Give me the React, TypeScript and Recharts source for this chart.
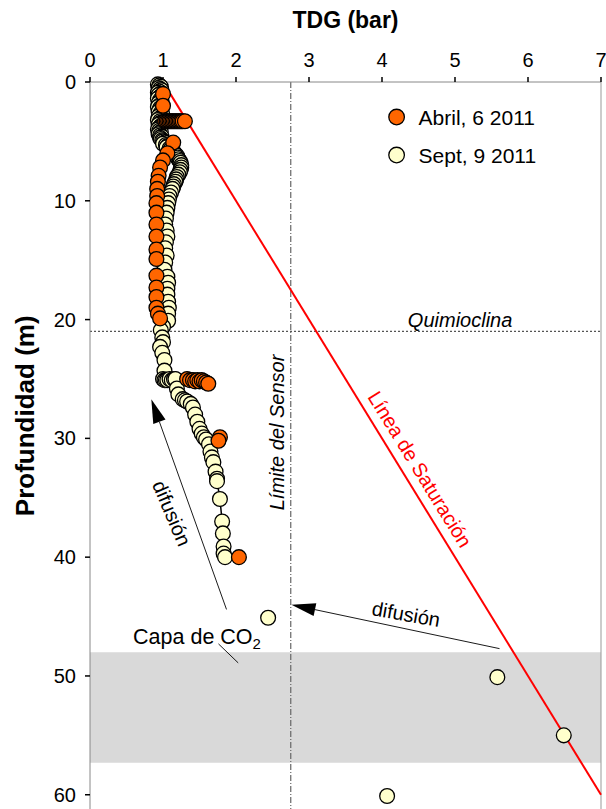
import React from 'react';
import {
  ScatterChart,
  Scatter,
  XAxis,
  YAxis,
  ReferenceArea,
  ReferenceLine,
  ReferenceDot,
} from 'recharts';

const FONT = '"Liberation Sans", Arial, Helvetica, sans-serif';
const ORANGE = '#FF6600';
const CREAM = '#FFFFCC';

const xTicks = [0, 1, 2, 3, 4, 5, 6, 7];
const yTicks = [0, 10, 20, 30, 40, 50, 60];

// Abril, 6 2011 profile
const abrilDepth = [
  1.0, 2.0,
  3.3, 3.3, 3.3, 3.3, 3.3, 3.3, 3.3, 3.3, 3.3, 3.3, 3.3, 3.3, 3.3, 3.3,
  5.1, 6.0, 6.6, 7.2, 7.9, 8.4, 9.0, 9.6,
  10.2, 11.0, 12.0, 13.0, 14.1, 14.9, 16.3, 17.3, 18.1, 19.0, 19.5, 19.9,
  25.0, 25.1, 25.1, 25.2, 25.1, 25.2, 25.1, 25.2, 25.3, 25.4,
  29.9, 30.2, 40.0,
];
const abrilTdg = [
  1.0, 1.0,
  1.03, 1.05, 1.07, 1.09, 1.11, 1.13, 1.15, 1.17, 1.19, 1.21, 1.23, 1.25, 1.27, 1.3,
  1.14, 1.06, 1.0, 0.96, 0.94, 0.93, 0.92, 0.92,
  0.91, 0.91, 0.91, 0.91, 0.91, 0.91, 0.91, 0.91, 0.91, 0.91, 0.93, 0.96,
  1.33, 1.37, 1.41, 1.44, 1.47, 1.5, 1.53, 1.56, 1.59, 1.62,
  1.78, 1.76, 2.04,
];

// Sept, 9 2011 profile (measured within sensor range)
const septDepth = [
  0.2, 0.3, 0.4, 0.5, 0.6, 0.7, 0.8, 0.9, 1.0, 1.1, 1.2, 1.3, 1.4, 1.5, 1.6, 1.7, 1.8, 1.9,
  2.0, 2.1, 2.2, 2.3, 2.4, 2.5, 2.6, 2.7, 2.8, 2.9, 3.0, 3.1, 3.2, 3.3, 3.4, 3.5, 3.6, 3.7,
  3.8, 3.9, 4.0, 4.1, 4.2, 4.3, 4.4, 4.5, 4.6, 4.7, 4.8, 4.9, 5.0,
  5.1, 5.2, 5.3, 5.4, 5.5, 5.6, 5.7, 5.8, 5.9, 6.0, 6.1, 6.2, 6.35, 6.5, 6.65, 6.8,
  7.0, 7.2, 7.4, 7.6, 7.8, 8.0, 8.2, 8.4, 8.6, 8.8, 9.0, 9.3, 9.6, 9.9,
  10.2, 10.6, 11.0, 11.5, 12.0, 12.5, 13.0, 13.5, 14.0, 14.6, 15.2, 15.8, 16.4, 16.9,
  17.4, 17.9, 18.5, 19.0, 19.5, 20.1, 20.6, 20.9, 21.5, 21.9, 22.3, 22.8, 23.4, 24.3,
  25.0, 25.1, 25.1, 25.1, 25.0, 25.1, 25.0, 25.0,
  25.8, 26.3, 26.7, 26.8, 26.9, 27.1, 27.4, 28.0, 28.6, 29.2, 29.6, 29.9, 30.1, 30.5,
  31.1, 31.6, 32.0, 32.8, 33.4, 33.6, 35.1, 37.0, 38.0, 39.1, 39.7, 40.0,
];
const septTdg = [
  0.93, 0.95, 0.97, 0.94, 0.96, 0.98, 0.95, 0.93, 0.96, 0.94, 0.97, 0.95, 0.93, 0.96, 0.98, 0.95, 0.94, 0.97,
  0.95, 0.93, 0.96, 0.98, 0.95, 0.94, 0.97, 0.99, 0.96, 0.94, 0.97, 0.95, 0.93, 0.96, 0.98, 0.95, 0.94, 0.97,
  0.96, 0.94, 0.93, 0.95, 0.97, 0.95, 0.94, 0.96, 0.98, 0.96, 0.97, 0.99, 1.0,
  1.02, 1.0, 1.04, 1.06, 1.05, 1.09, 1.1, 1.12, 1.15, 1.14, 1.17, 1.19, 1.2, 1.21, 1.23, 1.24,
  1.25, 1.25, 1.24, 1.23, 1.21, 1.19, 1.18, 1.17, 1.15, 1.14, 1.13, 1.11, 1.09, 1.08,
  1.07, 1.06, 1.05, 1.04, 1.03, 1.05, 1.06, 1.04, 1.03, 1.05, 1.03, 1.02, 1.06, 1.07,
  1.06, 1.06, 1.07, 1.08, 1.07, 1.07, 1.0, 0.97, 0.99, 1.0, 0.96, 0.99, 1.02, 1.02,
  1.0, 1.02, 1.04, 1.06, 1.09, 1.12, 1.15, 1.17,
  1.19, 1.21, 1.27, 1.3, 1.33, 1.38, 1.41, 1.44, 1.47, 1.5, 1.53, 1.56, 1.59, 1.63,
  1.65, 1.67, 1.69, 1.72, 1.74, 1.74, 1.78, 1.81, 1.82, 1.83, 1.83, 1.85,
];

// Sept, 9 2011 deep samples
const deepDepth = [45.1, 50.1, 55.0, 60.1];
const deepTdg = [2.44, 5.58, 6.49, 4.07];

const sensorLimit = 2.75;
const quimioclina = 21;
const capaTop = 48;
const capaBottom = 57.3;
const saturation = [
  { x: 1.1, y: 1 },
  { x: 7, y: 60 },
];

const abril = abrilDepth.map((d, i) => ({ tdg: abrilTdg[i], depth: d }));
const sept = septDepth.map((d, i) => ({ tdg: septTdg[i], depth: d }));
const septDeep = deepDepth.map((d, i) => ({ tdg: deepTdg[i], depth: d }));

const marker = (fill: string, r = 7.4) => (p: any) =>
  <circle cx={p.cx} cy={p.cy} r={r} fill={fill} stroke="#000" strokeWidth={1.3} />;

const note = (text: React.ReactNode, opts: any = {}) => (p: any) => {
  const { angle = 0, anchor = 'middle', fill = '#000', size = 20, italic = false, bold = false, baseline = 'central' } = opts;
  return (
    <text
      x={p.cx}
      y={p.cy}
      transform={angle ? `rotate(${angle} ${p.cx} ${p.cy})` : undefined}
      textAnchor={anchor}
      dominantBaseline={baseline}
      fill={fill}
      fontSize={size}
      fontStyle={italic ? 'italic' : 'normal'}
      fontWeight={bold ? 'bold' : 'normal'}
      fontFamily={FONT}
    >
      {text}
    </text>
  );
};

const legendItem = (fill: string, text: string) => (p: any) => (
  <g>
    <circle cx={p.cx} cy={p.cy} r={7.8} fill={fill} stroke="#000" strokeWidth={1.3} />
    <text x={p.cx + 22} y={p.cy} dominantBaseline="central" fontSize={21} fontFamily={FONT} fill="#000">
      {text}
    </text>
  </g>
);

const arrow = (p: any) => {
  const { x1, y1, x2, y2 } = p;
  const a = Math.atan2(y2 - y1, x2 - x1);
  const len = 24;
  const w = 6.5;
  const bx = x2 - len * Math.cos(a);
  const by = y2 - len * Math.sin(a);
  const nx = -Math.sin(a) * w;
  const ny = Math.cos(a) * w;
  return (
    <g>
      <line x1={x1} y1={y1} x2={bx} y2={by} stroke="#000" strokeWidth={0.9} />
      <polygon points={`${x2},${y2} ${bx + nx},${by + ny} ${bx - nx},${by - ny}`} fill="#000" />
    </g>
  );
};

export default function App() {
  return (
    <div style={{ padding: '8px 0 0 8px' }}>
      <style>{'body{margin:0}.recharts-wrapper,.recharts-surface{overflow:visible}'}</style>
      <ScatterChart width={598} height={801} margin={{ top: 0, right: 5, bottom: 0, left: 0 }}>
        <XAxis
          type="number"
          dataKey="tdg"
          domain={[0, 7]}
          ticks={xTicks}
          interval={0}
          orientation="top"
          height={74}
          axisLine={{ stroke: '#888' }}
          tickLine={{ stroke: '#000', strokeWidth: 1.5 }}
          tickSize={5}
          tickMargin={10}
          tick={{ fontSize: 20, fill: '#000', fontFamily: FONT }}
          label={{ value: 'TDG (bar)', position: 'insideTop', offset: 4, fontSize: 23, fontWeight: 'bold', fill: '#000', fontFamily: FONT }}
        />
        <YAxis
          type="number"
          dataKey="depth"
          domain={[0, 61.2]}
          reversed
          ticks={yTicks}
          interval={0}
          width={82}
          axisLine={{ stroke: '#888' }}
          tickLine={{ stroke: '#000', strokeWidth: 1.5 }}
          tickSize={5}
          tickMargin={9}
          tick={{ fontSize: 20, fill: '#000', fontFamily: FONT }}
        />

        <ReferenceArea y1={capaTop} y2={capaBottom} fill="#D9D9D9" fillOpacity={1} stroke="none" />
        <ReferenceLine x={sensorLimit} stroke="#666" strokeWidth={1.2} strokeDasharray="6 2 1 2" />
        <ReferenceLine y={quimioclina} stroke="#555" strokeWidth={1.2} strokeDasharray="2 2" />
        <ReferenceLine x={7} stroke="#999" />
        <ReferenceLine segment={saturation} stroke="#FF0000" strokeWidth={2} />

        <ReferenceLine segment={[{ x: 1.87, y: 44.4 }, { x: 0.84, y: 26.7 }]} shape={arrow} />
        <ReferenceLine segment={[{ x: 5.61, y: 47.7 }, { x: 2.76, y: 44.0 }]} shape={arrow} />
        <ReferenceLine segment={[{ x: 1.76, y: 47.3 }, { x: 2.03, y: 48.9 }]} stroke="#000" strokeWidth={0.9} />

        <Scatter data={sept} fill={CREAM} line={{ stroke: '#000', strokeWidth: 1.5 }} shape={marker(CREAM)} isAnimationActive={false} />
        <Scatter data={septDeep} fill={CREAM} shape={marker(CREAM)} isAnimationActive={false} />
        <Scatter data={abril} fill={ORANGE} shape={marker(ORANGE)} isAnimationActive={false} />

        <ReferenceDot x={4.2} y={2.95} shape={legendItem(ORANGE, 'Abril, 6 2011')} />
        <ReferenceDot x={4.2} y={6.15} shape={legendItem(CREAM, 'Sept, 9 2011')} />

        <ReferenceDot x={5.07} y={20.0} shape={note('Quimioclina', { italic: true })} />
        <ReferenceDot x={2.56} y={29.5} shape={note('Límite del Sensor', { italic: true, angle: -90 })} />
        <ReferenceDot x={4.52} y={32.6} shape={note('Línea de Saturación', { angle: 58.4, fill: '#FF0000' })} />
        <ReferenceDot x={1.12} y={36.3} shape={note('difusión', { angle: 67 })} />
        <ReferenceDot x={4.33} y={44.8} shape={note('difusión', { angle: 10 })} />
        <ReferenceDot
          x={0.59}
          y={47.3}
          shape={note(
            <>
              <tspan>Capa de CO</tspan>
              <tspan fontSize={15} dy={5}>2</tspan>
            </>,
            { anchor: 'start', baseline: 'auto', size: 21.5 }
          )}
        />
        <ReferenceDot
          x={-0.89}
          y={28.1}
          ifOverflow="visible"
          shape={note('Profundidad (m)', { angle: -90, bold: true, size: 26 })}
        />
      </ScatterChart>
    </div>
  );
}
